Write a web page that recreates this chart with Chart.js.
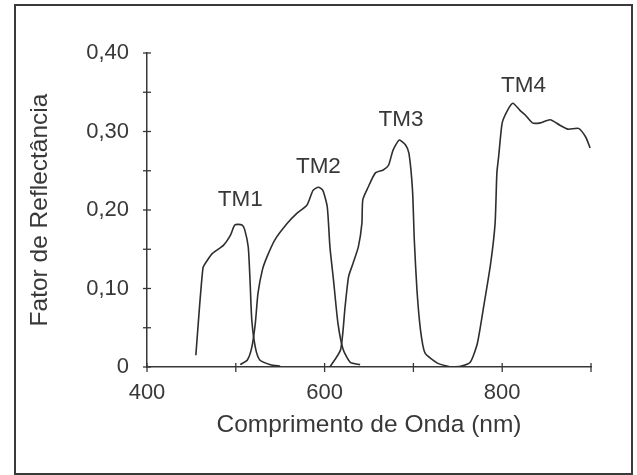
<!DOCTYPE html>
<html>
<head>
<meta charset="utf-8">
<script src="https://cdn.jsdelivr.net/npm/chart.js@4"></script>
<style>
  html, body { margin: 0; padding: 0; background: #fff; }
  #wrap { position: relative; width: 637px; height: 475px; }
  #frame { position: absolute; left: 14px; top: 4px; width: 615px; height: 467px; border: 2px solid #3a3a3a; }
  canvas { position: absolute; left: 0; top: 0; }
</style>
</head>
<body>
<div id="wrap">
  <div id="frame"></div>
  <canvas id="chart" width="637" height="475"></canvas>
</div>
<script>
// reflectance curves (wavelength nm / reflectance factor)
const tm1Wl = [455, 463, 468, 474, 486, 494, 499, 507, 510, 514, 516, 518, 522, 527, 539, 550];
const tm1R = [0.015, 0.126, 0.136, 0.145, 0.155, 0.168, 0.181, 0.181, 0.175, 0.153, 0.111, 0.060, 0.025, 0.009, 0.003, 0.001];

const tm2Wl = [505, 513, 518, 522, 525, 530, 535, 544, 558, 569, 580, 587, 593, 598, 603, 606, 610, 615, 621, 629, 640];
const tm2R = [0.003, 0.009, 0.025, 0.056, 0.094, 0.124, 0.140, 0.162, 0.183, 0.196, 0.206, 0.225, 0.229, 0.225, 0.204, 0.153, 0.111, 0.056, 0.022, 0.006, 0.003];

const tm3Wl = [606, 618, 623, 627, 632, 638, 642, 643, 649, 657, 666, 672, 677, 684, 691, 695, 699, 701, 704, 708, 713, 727, 741];
const tm3R = [0.000, 0.022, 0.076, 0.115, 0.132, 0.153, 0.183, 0.213, 0.229, 0.247, 0.251, 0.257, 0.276, 0.289, 0.283, 0.272, 0.225, 0.162, 0.098, 0.047, 0.018, 0.005, 0.000];

const tm4Wl = [741, 753, 764, 772, 779, 787, 792, 794, 796, 800, 806, 812, 820, 826, 834, 843, 854, 865, 874, 886, 894, 899];
const tm4R = [0.000, 0.001, 0.006, 0.030, 0.076, 0.132, 0.183, 0.247, 0.268, 0.311, 0.327, 0.336, 0.327, 0.321, 0.311, 0.311, 0.315, 0.308, 0.303, 0.304, 0.293, 0.279];

// band labels and where they sit
const bandNames = ["TM1", "TM2", "TM3", "TM4"];
const bandLabelWl = [505, 593, 686, 824];
const bandLabelR = [0.213, 0.255, 0.315, 0.358];

const xLabeled = [400, 600, 800];

const ink = "#383838";
const fontFam = "'Liberation Sans', Arial, sans-serif";

const toPoints = (wl, r) => wl.map((w, i) => ({ x: w, y: r[i] }));

const curve = (name, wl, r) => ({
    label: name,
    data: toPoints(wl, r),
    borderColor: "#2e2e2e",
    borderWidth: 1.6,
    pointRadius: 0,
    tension: 0.2,
    fill: false
});

// crossing tick marks on both axes + band labels
const marksPlugin = {
    id: "marks",
    afterDraw(chart) {
        const ctx = chart.ctx;
        const xs = chart.scales.x;
        const ys = chart.scales.y;
        ctx.save();
        ctx.strokeStyle = ink;
        ctx.lineWidth = 1.3;
        xs.ticks.forEach(t => {
            const px = xs.getPixelForValue(t.value);
            ctx.beginPath();
            ctx.moveTo(px, ys.bottom - 4);
            ctx.lineTo(px, ys.bottom + 5);
            ctx.stroke();
        });
        ys.ticks.forEach(t => {
            const py = ys.getPixelForValue(t.value);
            ctx.beginPath();
            ctx.moveTo(xs.left - 4, py);
            ctx.lineTo(xs.left + 4, py);
            ctx.stroke();
        });
        ctx.fillStyle = ink;
        ctx.font = "22.5px " + fontFam;
        ctx.textAlign = "center";
        ctx.textBaseline = "middle";
        bandNames.forEach((n, i) => {
            ctx.fillText(n, xs.getPixelForValue(bandLabelWl[i]), ys.getPixelForValue(bandLabelR[i]));
        });
        ctx.restore();
    }
};

new Chart(document.getElementById("chart"), {
    type: "line",
    data: {
        datasets: [
            curve("TM1", tm1Wl, tm1R),
            curve("TM2", tm2Wl, tm2R),
            curve("TM3", tm3Wl, tm3R),
            curve("TM4", tm4Wl, tm4R)
        ]
    },
    options: {
        responsive: false,
        animation: false,
        layout: { padding: { left: 22, top: 53, right: 46, bottom: 31 } },
        plugins: { legend: { display: false }, tooltip: { enabled: false } },
        scales: {
            x: {
                type: "linear",
                min: 400,
                max: 900,
                border: { color: ink, width: 1.5 },
                grid: { display: false },
                ticks: {
                    stepSize: 100,
                    padding: 5,
                    color: ink,
                    font: { family: fontFam, size: 22 },
                    maxRotation: 0,
                    callback: v => xLabeled.includes(v) ? String(v) : ""
                },
                title: {
                    display: true,
                    text: "Comprimento de Onda (nm)",
                    color: ink,
                    font: { family: fontFam, size: 24.5 }
                },
                afterFit: s => { s.height = 77; }
            },
            y: {
                min: 0,
                max: 0.4,
                border: { color: ink, width: 1.5 },
                grid: { display: false },
                ticks: {
                    stepSize: 0.05,
                    padding: 10,
                    color: ink,
                    font: { family: fontFam, size: 22 },
                    callback: v => {
                        const k = Math.round(v * 100);
                        if (k % 10 !== 0) return "";
                        return k === 0 ? "0" : "0," + String(k).padStart(2, "0");
                    }
                },
                title: {
                    display: true,
                    text: "Fator de Reflectância",
                    color: ink,
                    font: { family: fontFam, size: 24.5 }
                },
                afterFit: s => { s.width = 125; }
            }
        }
    },
    plugins: [marksPlugin]
});
</script>
</body>
</html>
